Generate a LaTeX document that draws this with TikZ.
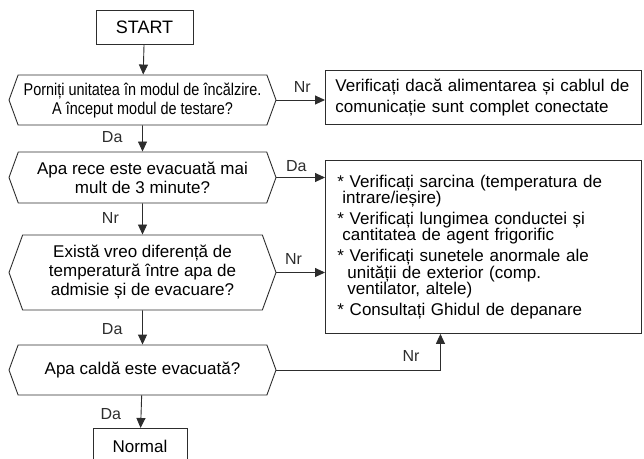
\documentclass[tikz,border=0pt]{standalone}
\usepackage{fontspec}
\setmainfont{Liberation Sans}
\newfontfamily\narrowsans[FakeStretch=0.85]{Liberation Sans}
\usetikzlibrary{arrows.meta,positioning,shapes.symbols}
\definecolor{fcline}{RGB}{45,45,45}

\begin{document}
\begin{tikzpicture}[x=1pt, y=-1pt,
  font=\fontsize{17}{19}\selectfont,
  box/.style={draw=fcline, line width=0.9pt, inner sep=0pt},
  hexq/.style={draw=fcline, line width=0.9pt, signal, signal to=west and east,
               signal pointer angle=140, minimum width=267pt, inner sep=0pt,
               align=center},
  note/.style={draw=fcline, line width=0.9pt, anchor=north west, align=left,
               text width=292pt, inner xsep=12pt},
  arr/.style={-{Triangle[length=10pt,width=9pt]}, line width=0.9pt, fcline},
  lbl/.style={font=\fontsize{16}{18}\selectfont, inner sep=0pt},
  lbv/.style={lbl, anchor=west, xshift=-41pt}
]
  \useasboundingbox (0,0) rectangle (644,458);
  \node[box, minimum width=97pt, minimum height=34pt, font=\fontsize{18}{20}\selectfont] (start) at (144.5,27) {START};
  \node[hexq, minimum height=50pt, font=\narrowsans\fontsize{17}{19}\selectfont] (q1) at (142.5,100) {Porniți unitatea în modul de încălzire.\\A început modul de testare?};
  \node[hexq, minimum height=51pt] (q2) at (142.5,177.5) {Apa rece este evacuată mai\\mult de 3 minute?};
  \node[hexq, minimum height=75pt] (q3) at (142.5,272.5) {Există vreo diferență de\\temperatură între apa de\\admisie și de evacuare?};
  \node[hexq, minimum height=50pt] (q4) at (142.5,370) {Apa caldă este evacuată?};
  \node[box, minimum width=94pt, minimum height=36pt, anchor=north] (normal) at (140,428) {Normal};

  \node[note, minimum height=54pt, inner xsep=10pt, text width=296pt, font=\fontsize{17}{21}\selectfont] (conn) at (325,70)
    {Verificați dacă alimentarea și cablul de\\comunicație sunt complet conectate};
  \node[note, minimum height=173pt, font=\fontsize{17}{16}\selectfont] (fix) at (325,160)
    {* Verificați sarcina (temperatura de\\
     \hspace*{5pt}intrare/ieșire)\\[5pt]
     * Verificați lungimea conductei și\\
     \hspace*{5pt}cantitatea de agent frigorific\\[5pt]
     * Verificați sunetele anormale ale\\
     \hspace*{10pt}unității de exterior (comp.\\
     \hspace*{10pt}ventilator, altele)\\[5pt]
     * Consultați Ghidul de depanare};

  \draw[arr] (start) -- (q1);
  \draw[arr] (q1) -- node[lbv, pos=0.46] (l1) {Da} (q2);
  \draw[arr] (q2) -- node[lbv, pos=0.47] (l2) {Nr} (q3);
  \draw[arr] (q3) -- node[lbv, pos=0.54] (l3) {Da} (q4);
  \draw[arr] (q4) -- node[lbv, pos=0.58] (l4) {Da} (normal);

  \draw[arr] (q1.east) -- node[lbl, pos=0.53, above=7pt] (l5) {Nr} (q1.east -| conn.west);
  \draw[arr] (q2.east) -- node[lbl, pos=0.41, above=5pt] (l6) {Da} (q2.east -| fix.west);
  \draw[arr] (q3.east) -- node[lbl, pos=0.35, above=8pt] (l7) {Nr} (q3.east -| fix.west);
  \draw[arr] (q4.east) -| node[lbl, pos=0.41, above=8pt] (l8) {Nr} ([xshift=-43pt]fix.south);
\end{tikzpicture}
\end{document}
